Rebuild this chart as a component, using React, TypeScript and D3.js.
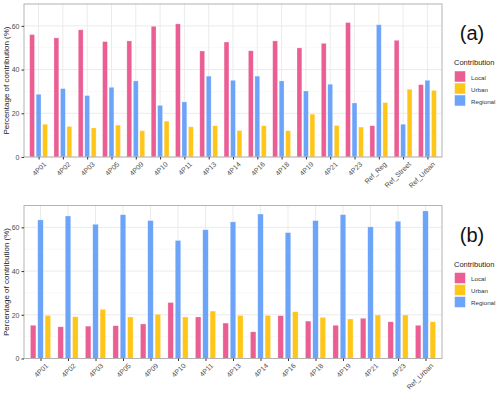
import React, { useEffect, useRef } from 'react'
import * as d3 from 'd3'

// panel (a)
const sitesA = ['4P01', '4P02', '4P03', '4P05', '4P09', '4P10', '4P11', '4P13', '4P14', '4P16', '4P18', '4P19', '4P21', '4P23', 'Ref_Reg', 'Ref_Street', 'Ref_Urban']
const localA = [56.0, 54.5, 58.2, 52.8, 53.1, 59.8, 60.9, 48.5, 52.6, 48.6, 53.1, 49.9, 52.0, 61.5, 14.3, 53.4, 33.1]
const regionalA = [28.7, 31.3, 28.1, 31.9, 34.8, 23.6, 25.2, 37.0, 35.1, 37.0, 34.8, 30.2, 33.3, 24.7, 60.5, 15.0, 35.1]
const urbanA = [15.0, 14.0, 13.3, 14.6, 12.0, 16.4, 13.8, 14.3, 12.1, 14.3, 12.0, 19.6, 14.4, 13.7, 24.9, 31.0, 30.5]

// panel (b)
const sitesB = ['4P01', '4P02', '4P03', '4P05', '4P09', '4P10', '4P11', '4P13', '4P14', '4P16', '4P18', '4P19', '4P21', '4P23', 'Ref_Urban']
const localB = [15.2, 14.5, 14.8, 15.0, 15.8, 25.6, 19.0, 16.2, 12.2, 19.6, 17.1, 15.2, 18.4, 16.8, 15.2]
const regionalB = [63.4, 65.2, 61.4, 65.8, 63.1, 54.0, 58.9, 62.5, 66.1, 57.6, 63.1, 65.8, 60.2, 62.8, 67.5]
const urbanB = [19.7, 19.1, 22.5, 19.0, 20.2, 19.0, 21.7, 19.7, 19.7, 21.4, 18.8, 18.1, 19.9, 19.9, 16.8]

const yTicks = [0, 20, 40, 60]
const yMinor = [10, 30, 50, 70]
const legendKeys = ['Local', 'Urban', 'Regional']
const barOrder = ['Local', 'Regional', 'Urban']
const colors: Record<string, string> = { Local: '#e8508a', Urban: '#ffc107', Regional: '#5e9cf8' }

const font = 'Liberation Sans, Arial, sans-serif'

function drawPanel(svg: any, top: number, tag: string, sites: string[], local: number[], regional: number[], urban: number[]) {
    const left = 24, right = 442, height = 153
    const g = svg.append('g').attr('transform', 'translate(0,' + top + ')')

    // ggplot-style discrete axis: 0.6 unit of padding at each end
    const x = d3.scalePoint().domain(sites).range([left, right]).padding(0.6)
    const step = x.step()
    // dodge width 0.8, bar width 0.2 of a unit
    const x1 = d3.scalePoint().domain(barOrder).range([-step * 0.8 / 3, step * 0.8 / 3])
    const barW = step * 0.2
    const y = d3.scaleLinear().domain([0, 70]).range([height, 0])

    // grid
    g.selectAll('.minor').data(yMinor).enter().append('line')
        .attr('x1', left).attr('x2', right)
        .attr('y1', (d: number) => y(d)).attr('y2', (d: number) => y(d))
        .attr('stroke', '#f3f3f3').attr('stroke-width', 0.6)
    g.selectAll('.major').data(yTicks).enter().append('line')
        .attr('x1', left).attr('x2', right)
        .attr('y1', (d: number) => y(d)).attr('y2', (d: number) => y(d))
        .attr('stroke', '#ebebeb').attr('stroke-width', 1)
    g.selectAll('.vgrid').data(sites).enter().append('line')
        .attr('x1', (d: string) => x(d)!).attr('x2', (d: string) => x(d)!)
        .attr('y1', 0).attr('y2', height)
        .attr('stroke', '#ebebeb').attr('stroke-width', 1)

    const rows = sites.map((s, i) => ({ site: s, Local: local[i], Regional: regional[i], Urban: urban[i] }))
    const groups = g.selectAll('.grp').data(rows).enter().append('g')
        .attr('transform', (d: any) => 'translate(' + x(d.site)! + ',0)')
    groups.selectAll('rect')
        .data((d: any) => barOrder.map(k => ({ key: k, value: d[k] })))
        .enter().append('rect')
        .attr('x', (d: any) => x1(d.key)! - barW / 2)
        .attr('width', barW)
        .attr('y', (d: any) => y(d.value))
        .attr('height', (d: any) => height - y(d.value))
        .attr('fill', (d: any) => colors[d.key])
        .attr('fill-opacity', 0.92)
        .attr('stroke', '#ffffff').attr('stroke-opacity', 0.45).attr('stroke-width', 0.6)

    // border
    g.append('rect').attr('x', left).attr('y', 0).attr('width', right - left).attr('height', height)
        .attr('fill', 'none').attr('stroke', '#b3b3b3').attr('stroke-width', 1)

    // y axis
    const yAxis = g.append('g').attr('transform', 'translate(' + left + ',0)')
        .call(d3.axisLeft(y).tickValues(yTicks).tickSize(2.5).tickPadding(2))
    yAxis.select('.domain').remove()
    yAxis.selectAll('line').attr('stroke', '#333333')
    yAxis.selectAll('text').attr('fill', '#4d4d4d').style('font-size', '7px').style('font-family', font)

    // x axis
    const xAxis = g.append('g').attr('transform', 'translate(0,' + height + ')')
        .call(d3.axisBottom(x).tickSize(2.5).tickPadding(2))
    xAxis.select('.domain').remove()
    xAxis.selectAll('line').attr('stroke', '#333333')
    xAxis.selectAll('text')
        .attr('fill', '#4d4d4d').style('font-size', '7px').style('font-family', font)
        .attr('text-anchor', 'end').attr('dy', '0.3em')
        .attr('transform', 'translate(3,3) rotate(-45)')

    g.append('text')
        .attr('transform', 'translate(9,' + height / 2 + ') rotate(-90)')
        .attr('text-anchor', 'middle')
        .style('font-size', '8px').style('font-family', font).attr('fill', '#222222')
        .text('Percentage of contribution (%)')

    // tag
    g.append('text').attr('x', 472).attr('y', 36).attr('text-anchor', 'middle')
        .style('font-size', '20px').style('font-family', font).attr('fill', '#111111')
        .text('(' + tag + ')')

    // legend
    const lg = g.append('g').attr('transform', 'translate(454,61)')
    lg.append('text').attr('x', 0).attr('y', 0).style('font-size', '7.5px').style('font-family', font).attr('fill', '#222222').text('Contribution')
    legendKeys.forEach((k, i) => {
        lg.append('rect').attr('x', 0.5).attr('y', 6 + i * 12).attr('width', 11).attr('height', 11)
            .attr('fill', colors[k]).attr('fill-opacity', 0.92)
            .attr('stroke', '#ffffff').attr('stroke-opacity', 0.6).attr('stroke-width', 0.8)
        lg.append('text').attr('x', 17).attr('y', 14.5 + i * 12)
            .style('font-size', '6.2px').style('font-family', font).attr('fill', '#333333').text(k)
    })
}

function App() {
    const ref = useRef<SVGSVGElement>(null)

    useEffect(() => {
        const svg = d3.select(ref.current)
        svg.selectAll('*').remove()
        drawPanel(svg, 4, 'a', sitesA, localA, regionalA, urbanA)
        drawPanel(svg, 205.5, 'b', sitesB, localB, regionalB, urbanB)
    }, [])

    return (
        <svg ref={ref} width={500} height={394}
            style={{ position: 'absolute', left: 0, top: 0, background: '#ffffff' }} />
    )
}

export default App
